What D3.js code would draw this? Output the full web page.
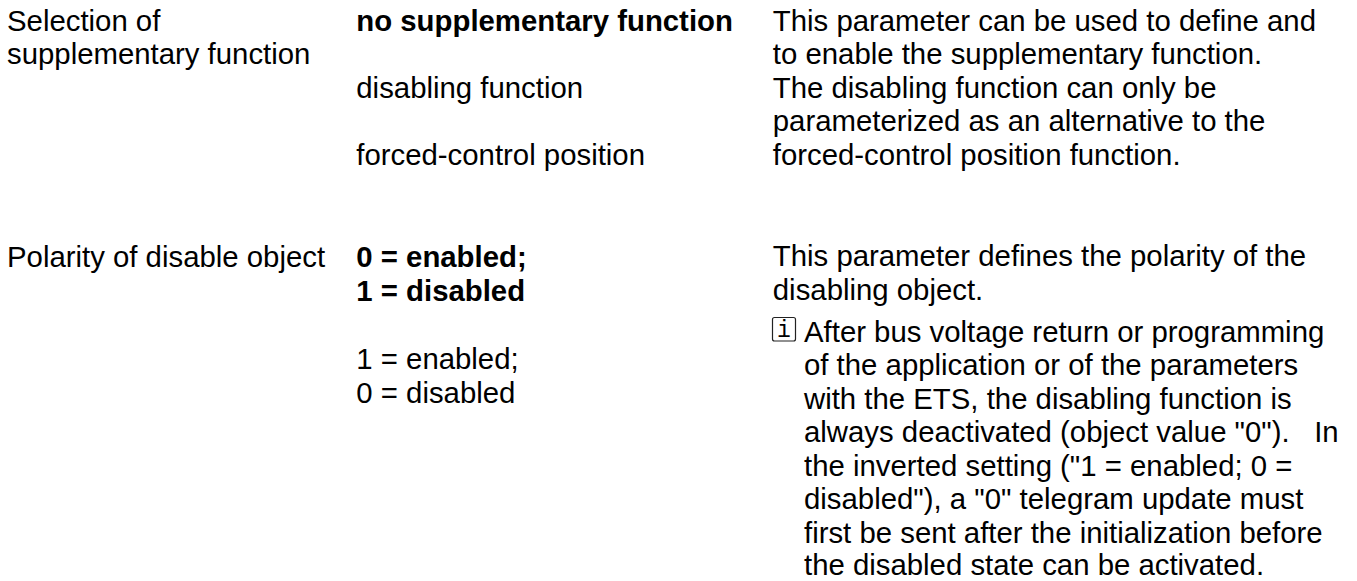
<!DOCTYPE html>
<html><head><meta charset="utf-8"><script src="https://cdn.jsdelivr.net/npm/d3@7"></script>
<style>html,body{margin:0;background:#fff}svg{display:block}text{font-family:"Liberation Sans";font-size:29.35px;fill:#000}</style></head>
<body><svg id="c" width="1357" height="581"></svg>
<script>
const col1Lines=[["Selection of",30.5],["supplementary function",63.7],["Polarity of disable object",266.7]];
const col2Lines=[["no supplementary function",30.5,1],["disabling function",97.7,0],["forced-control position",164.9,0],["0 = enabled;",267,1],["1 = disabled",301,1],["1 = enabled;",368.5,0],["0 = disabled",402.5,0]];
const col3Lines=[["This parameter can be used to define and",30.5],["to enable the supplementary function.",63.7],["The disabling function can only be",97.5],["parameterized as an alternative to the",131],["forced-control position function.",164.6],["This parameter defines the polarity of the",266.3],["disabling object.",299.8]];
const noteLines=[["After bus voltage return or programming",341.5],["of the application or of the parameters",375],["with the ETS, the disabling function is",408.5],["always deactivated (object value \"0\").   In",442],["the inverted setting (\"1 = enabled; 0 =",475.5],["disabled\"), a \"0\" telegram update must",509],["first be sent after the initialization before",542.6],["the disabled state can be activated.",574.8]];
const svg=d3.select("#c");
const put=(rows,x)=>svg.append("g").selectAll("text").data(rows).join("text").style("white-space","pre").attr("x",x).attr("y",d=>d[1]).style("font-weight",d=>d[2]?"bold":"normal").text(d=>d[0]);
put(col1Lines,7);put(col2Lines,356.3);put(col3Lines,772.8);put(noteLines,804);
const g=svg.append("g");
g.append("rect").attr("x",772.5).attr("y",317.5).attr("width",23).attr("height",23.5).attr("rx",2).attr("fill","none").attr("stroke","#222").attr("stroke-width",1.2);
g.append("text").attr("x",784).attr("y",337).attr("text-anchor","middle").style("font-family","Liberation Mono").style("font-size","23px").text("i");
</script></body></html>
